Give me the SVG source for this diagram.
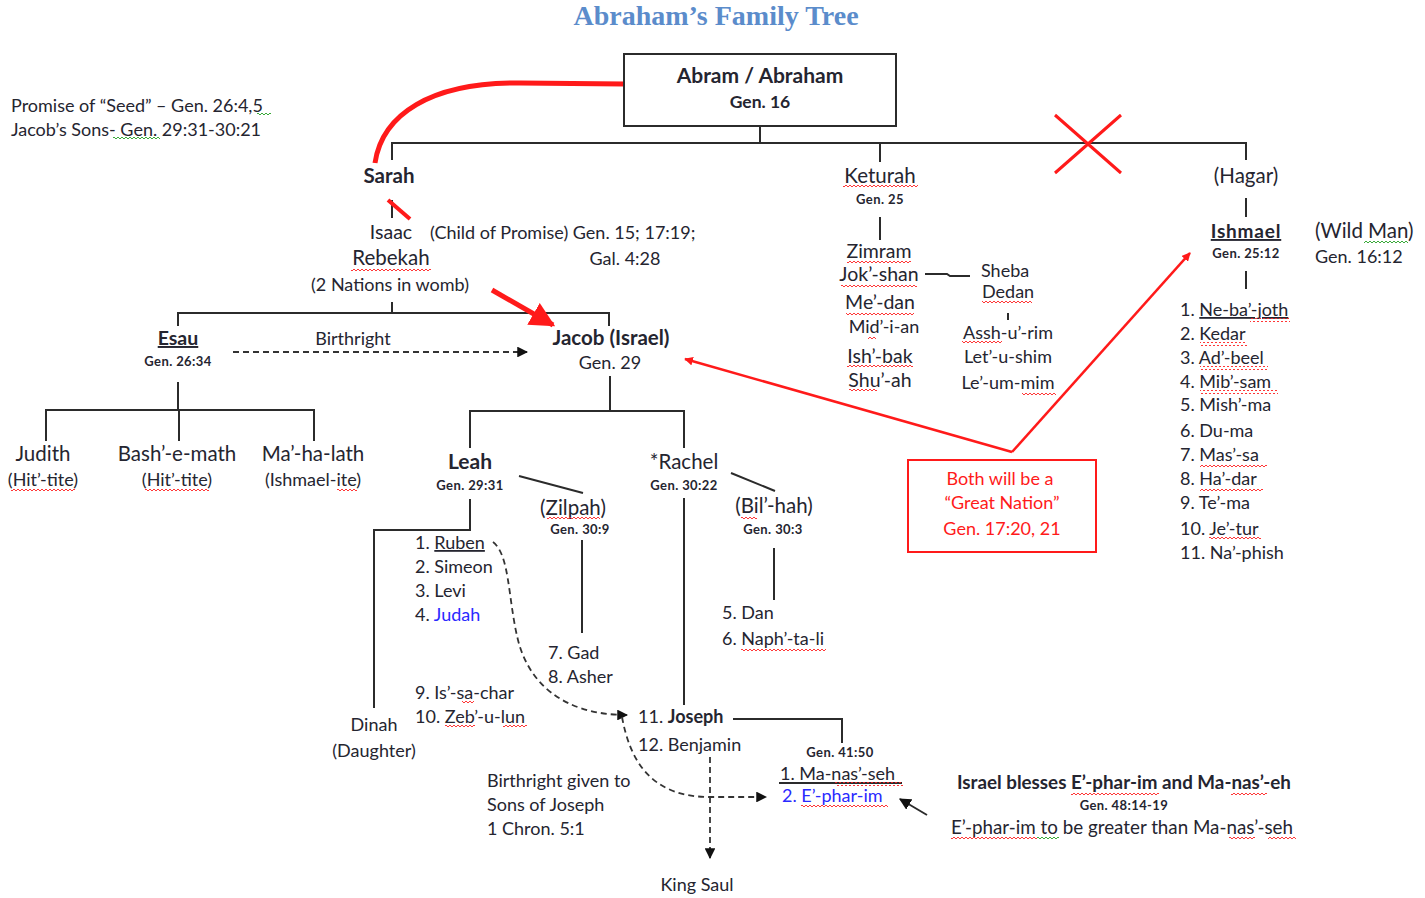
<svg xmlns="http://www.w3.org/2000/svg" width="1425" height="898" viewBox="0 0 1425 898">
<style>
text{font-family:Lato,"Open Sans","Liberation Sans",sans-serif;font-size:18px;fill:#252530}
.m{text-anchor:middle}
.n{font-size:20.5px}
.b{font-weight:bold}
.h{font-size:20.5px;font-weight:bold}
.s{font-size:13px;font-weight:bold;letter-spacing:0.4px}
.blue{fill:#2a2aff}
.red{fill:#ff1a1a}
.u{text-decoration:underline}
.title{font-family:"Liberation Serif","DejaVu Serif",serif;font-size:28px;font-weight:bold;fill:#5b8ccb}
.ln{stroke:#2b2b2b;stroke-width:2;fill:none}
.dash{stroke:#333;stroke-width:1.8;fill:none;stroke-dasharray:6,4}
.rl{stroke:#ff1a1a;fill:none}
.sq{fill:url(#sqr)}
.sg{fill:url(#sqg)}
</style>
<defs>
<pattern id="sqr" width="4" height="4" patternUnits="userSpaceOnUse"><path d="M0,3 L2,1 L4,3" stroke="#ff2020" stroke-width="0.9" fill="none"/></pattern>
<pattern id="sqg" width="4" height="4" patternUnits="userSpaceOnUse"><path d="M0,3 L2,1 L4,3" stroke="#22a022" stroke-width="0.9" fill="none"/></pattern>
<marker id="ak" viewBox="0 0 10 10" refX="9" refY="5" markerWidth="6" markerHeight="6" orient="auto"><path d="M0,0 L10,5 L0,10 Z" fill="#111"/></marker>
<marker id="ar" viewBox="0 0 10 10" refX="9" refY="5" markerWidth="5" markerHeight="5" orient="auto"><path d="M0,0 L10,5 L0,10 Z" fill="#ff1a1a"/></marker>
<marker id="arb" viewBox="0 0 10 10" refX="9" refY="5" markerWidth="3.5" markerHeight="3.5" orient="auto"><path d="M0,0 L10,5 L0,10 Z" fill="#ff1a1a"/></marker>
</defs>
<rect width="1425" height="898" fill="#fff"/>
<text class="title m" x="716" y="25">Abraham’s Family Tree</text>

<g id="notes">
<text x="11" y="112">Promise of “Seed” – Gen. 26:4,5</text>
<text x="11" y="136">Jacob’s Sons- Gen. 29:31-30:21</text>
<rect class="sg" x="257" y="113" width="14" height="4"/>
<rect class="sg" x="113" y="137" width="47" height="4"/>
</g>

<g id="connectors">
<path class="ln" d="M760,126 V143 M392,160 V143 H1246 V160 M880,143 V162"/>
<path class="rl" stroke-width="3" d="M1055,115 L1121,173 M1121,115 L1055,173"/>
<path class="rl" stroke-width="5" d="M624,84 L520,83 C430,82 382,115 375,163"/>
<path class="ln" d="M392,200 V218"/>
<path class="rl" stroke-width="4" d="M388,200 L410,219"/>
<path class="ln" d="M392,302 V313 M178,326 V313 H609 V326"/>
<path class="rl" stroke-width="5" d="M492,290 L553,325" marker-end="url(#ar)"/>
<path class="dash" d="M233,352 H527" marker-end="url(#ak)"/>
<path class="ln" d="M178,382 V410 M46,441 V410 H314 V441 M179,410 V441"/>
<path class="ln" d="M610,376 V411 M470,448 V411 H684 V448"/>
<path class="ln" d="M470,499 V530 H374 V708"/>
<path class="ln" d="M519,476 L583,493 M731,473 L775,491"/>
<path class="ln" d="M582,540 V633 M774,548 V600 M684,498 V705"/>
<path class="dash" d="M493,542 C510,555 508,600 518,640 C528,680 560,715 627,715" marker-end="url(#ak)"/>
<path class="dash" d="M622,717 C630,760 650,797 710,797 L766,797" marker-end="url(#ak)"/>
<path class="dash" d="M710,757 V858" marker-end="url(#ak)"/>
<path class="ln" d="M733,719 H842 V743"/>
<path class="ln" stroke-width="2.2" d="M927,815 L900,799" marker-end="url(#ak)"/>
<path class="ln" d="M880,217 V240"/>
<path class="ln" stroke-width="1.6" d="M925,274 H947 L950,276 H970"/>
<path class="ln" stroke-width="1" d="M1008,313 V320"/>
<path class="ln" d="M1246,198 V217 M1246,271 V289"/>
<path class="rl" stroke-width="2.5" d="M1012,452 L1190,253" marker-end="url(#arb)"/>
<path class="rl" stroke-width="2.5" d="M1012,452 L685,359" marker-end="url(#arb)"/>
</g>

<g id="abraham">
<rect x="624" y="54" width="272" height="72" fill="#fff" stroke="#2b2b2b" stroke-width="2"/>
<text class="m b" x="760" y="83" style="font-size:21px">Abram / Abraham</text>
<text class="m b" x="760" y="108" style="font-size:17.5px">Gen. 16</text>
</g>

<g id="sarah">
<text class="m h" x="389" y="183">Sarah</text>
</g>

<g id="isaac">
<text class="m n" x="391" y="239" style="font-size:19.5px">Isaac</text>
<text x="430" y="239">(Child of Promise) Gen. 15; 17:19;</text>
<text class="m" x="625" y="265">Gal. 4:28</text>
<text class="m n" x="391" y="265">Rebekah</text>
<rect class="sq" x="351" y="267" width="80" height="4"/>
<text class="m" x="390" y="291">(2 Nations in womb)</text>
</g>

<g id="esau">
<text class="m b u" x="178" y="345" style="font-size:19.5px">Esau</text>
<text class="m s" x="178" y="366">Gen. 26:34</text>
<text class="m" x="353" y="345">Birthright</text>
</g>

<g id="esau-wives">
<text class="m n" x="43" y="461">Judith</text>
<text class="m" x="43" y="486">(Hit’-tite)</text>
<rect class="sq" x="11" y="487" width="64" height="4"/>
<text class="m n" x="177" y="461">Bash’-e-math</text>
<text class="m" x="177" y="486">(Hit’-tite)</text>
<rect class="sq" x="145" y="487" width="64" height="4"/>
<text class="m n" x="313" y="461">Ma’-ha-lath</text>
<text class="m" x="313" y="486">(Ishmael-ite)</text>
<rect class="sq" x="337" y="487" width="20" height="4"/>
</g>

<g id="jacob">
<text class="m h" x="611" y="345">Jacob (Israel)</text>
<text class="m" x="610" y="369">Gen. 29</text>
</g>

<g id="leah">
<text class="m h" x="470" y="469" style="font-size:21px">Leah</text>
<text class="m s" x="470" y="490">Gen. 29:31</text>
</g>

<g id="zilpah">
<text class="m n" x="573" y="515">(Zilpah)</text>
<rect class="sq" x="547" y="517" width="53" height="4"/>
<text class="m s" x="580" y="534">Gen. 30:9</text>
</g>

<g id="rachel">
<text class="m n" x="684" y="469">*Rachel</text>
<text class="m s" x="684" y="490">Gen. 30:22</text>
</g>

<g id="bilhah">
<text class="m n" x="774" y="513">(Bil’-hah)</text>
<rect class="sq" x="741" y="515" width="16" height="4"/>
<text class="m s" x="773" y="534">Gen. 30:3</text>
</g>

<g id="leah-sons">
<text x="415" y="549">1. <tspan class="u">Ruben</tspan></text>
<text x="415" y="573">2. Simeon</text>
<text x="415" y="597">3. Levi</text>
<text x="415" y="621">4. <tspan class="blue">Judah</tspan></text>
<text x="415" y="699">9. Is’-sa-char</text>
<rect class="sq" x="462" y="701" width="12" height="4"/>
<text x="415" y="723">10. Zeb’-u-lun</text>
<rect class="sq" x="445" y="725" width="30" height="4"/>
<rect class="sq" x="503" y="725" width="24" height="4"/>
</g>

<g id="dinah">
<text class="m" x="374" y="731">Dinah</text>
<text class="m" x="374" y="757">(Daughter)</text>
</g>

<g id="zilpah-sons">
<text x="548" y="659">7. Gad</text>
<text x="548" y="683">8. Asher</text>
</g>

<g id="bilhah-sons">
<text x="722" y="619">5. Dan</text>
<text x="722" y="645">6. Naph’-ta-li</text>
<rect class="sq" x="741" y="647" width="85" height="4"/>
</g>

<g id="joseph">
<text x="638" y="723"><tspan>11. </tspan><tspan class="b">Joseph</tspan></text>
<text x="638" y="751">12. Benjamin</text>
</g>

<g id="joseph-sons">
<text class="m s" x="840" y="757">Gen. 41:50</text>
<text x="780" y="780">1. Ma-nas’-seh</text>
<path class="ln" stroke-width="1.5" d="M779,783 H902"/>
<rect class="sq" x="835" y="782" width="68" height="4"/>
<text x="782" y="802" class="blue">2. E’-phar-im</text>
<rect class="sq" x="801" y="804" width="87" height="4"/>
</g>

<g id="birthright-note">
<text x="487" y="787">Birthright given to</text>
<text x="487" y="811">Sons of Joseph</text>
<text x="487" y="835">1 Chron. 5:1</text>
</g>

<g id="king-saul">
<text class="m" x="697" y="891">King Saul</text>
</g>

<g id="blessing">
<text x="957" y="789" class="b" style="font-size:18.8px">Israel blesses E’-phar-im and Ma-nas’-eh</text>
<rect class="sq" x="1071" y="791" width="88" height="4"/>
<rect class="sq" x="1231" y="791" width="36" height="4"/>
<text class="m s" x="1124" y="810">Gen. 48:14-19</text>
<text x="951" y="834" style="font-size:18.8px">E’-phar-im  to be greater than Ma-nas’-seh</text>
<rect class="sq" x="951" y="836" width="86" height="4"/>
<rect class="sg" x="1037" y="836" width="22" height="4"/>
<rect class="sq" x="1229" y="836" width="26" height="4"/>
<rect class="sq" x="1268" y="836" width="28" height="4"/>
</g>

<g id="keturah">
<text class="m n" x="880" y="183">Keturah</text>
<rect class="sq" x="843" y="185" width="75" height="4"/>
<text class="m s" x="880" y="204">Gen. 25</text>
<text class="m" x="879" y="258" style="font-size:19.5px">Zimram</text>
<rect class="sq" x="847" y="260" width="64" height="4"/>
<text class="m" x="879" y="281" style="font-size:19.5px">Jok’-shan</text>
<rect class="sq" x="841" y="283" width="76" height="4"/>
<text class="m" x="880" y="309" style="font-size:19.5px">Me’-dan</text>
<rect class="sq" x="846" y="311" width="68" height="4"/>
<text class="m" x="884" y="333">Mid’-i-an</text>
<rect class="sq" x="868" y="335" width="8" height="4"/>
<text class="m" x="880" y="363" style="font-size:19.5px">Ish’-bak</text>
<rect class="sq" x="847" y="365" width="66" height="4"/>
<text class="m" x="880" y="387" style="font-size:19.5px">Shu’-ah</text>
<rect class="sq" x="849" y="389" width="28" height="4"/>
<text x="981" y="277">Sheba</text>
<text x="982" y="298">Dedan</text>
<rect class="sq" x="982" y="300" width="50" height="4"/>
<text class="m" x="1008" y="339">Assh-u’-rim</text>
<rect class="sq" x="962" y="341" width="40" height="4"/>
<text class="m" x="1008" y="363">Let’-u-shim</text>
<text class="m" x="1008" y="389">Le’-um-mim</text>
<rect class="sq" x="1022" y="391" width="34" height="4"/>
</g>

<g id="hagar">
<text class="m n" x="1246" y="183">(Hagar)</text>
<text class="m b u" x="1246" y="238" style="font-size:19px;letter-spacing:0.8px">Ishmael</text>
<text class="m s" x="1246" y="258">Gen. 25:12</text>
<text x="1315" y="238" class="n">(Wild Man)</text>
<rect class="sg" x="1364" y="240" width="44" height="4"/>
<text x="1315" y="263">Gen. 16:12</text>
</g>

<g id="ishmael-sons">
<text x="1180" y="316">1. <tspan class="u">Ne-ba’-joth</tspan></text>
<rect class="sq" x="1250" y="318" width="40" height="4"/>
<text x="1180" y="340">2. Kedar</text>
<rect class="sq" x="1200" y="342" width="47" height="4"/>
<text x="1180" y="364">3. Ad’-beel</text>
<rect class="sq" x="1200" y="366" width="68" height="4"/>
<text x="1180" y="388">4. Mib’-sam</text>
<rect class="sq" x="1200" y="390" width="78" height="4"/>
<text x="1180" y="411">5. Mish’-ma</text>
<text x="1180" y="437">6. Du-ma</text>
<text x="1180" y="461">7. Mas’-sa</text>
<rect class="sq" x="1200" y="463" width="67" height="4"/>
<text x="1180" y="485">8. Ha’-dar</text>
<rect class="sq" x="1200" y="487" width="63" height="4"/>
<text x="1180" y="509">9. Te’-ma</text>
<text x="1180" y="535">10. Je’-tur</text>
<rect class="sq" x="1209" y="537" width="52" height="4"/>
<text x="1180" y="559">11. Na’-phish</text>
</g>

<g id="great-nation">
<rect x="908" y="460" width="188" height="92" fill="none" stroke="#ff1a1a" stroke-width="2"/>
<text class="m red" x="1000" y="485">Both will be a</text>
<text class="m red" x="1002" y="509">“Great Nation”</text>
<text class="m red" x="1002" y="535">Gen. 17:20, 21</text>
</g>
</svg>
